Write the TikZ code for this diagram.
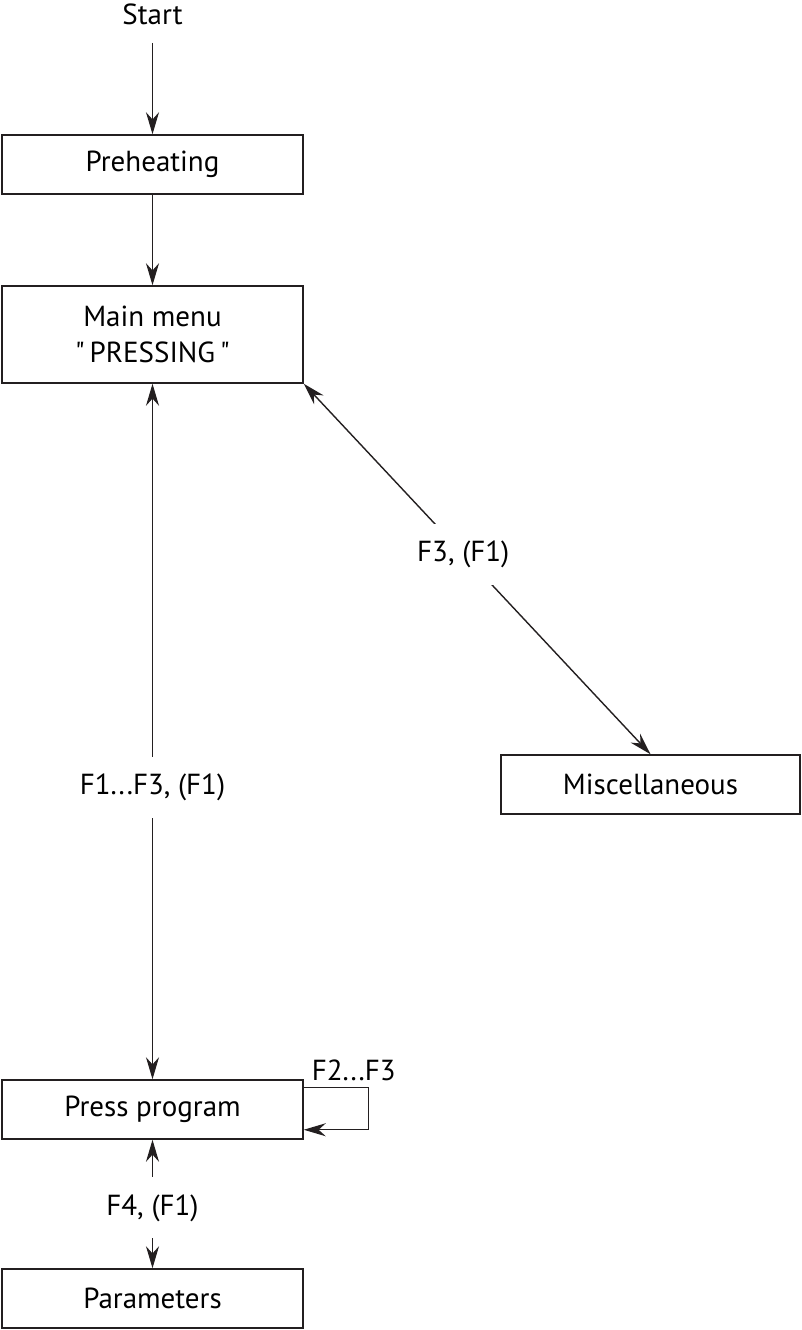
\documentclass[tikz,border=0pt]{standalone}
\usepackage{fontspec}
\setmainfont{PT Sans}
\usetikzlibrary{positioning,arrows.meta}
\definecolor{edge}{HTML}{231F20}

\begin{document}
\begin{tikzpicture}[x=1pt,y=-1pt,
    font=\fontsize{29}{36}\selectfont,
    box/.style={draw=edge,line width=1.5pt,minimum width=301pt,minimum height=59pt,
                inner sep=0pt,align=center},
    flow/.style={-{Stealth[length=22pt,width=13pt]},line width=1.4pt,draw=edge},
    both/.style={{Stealth[length=22pt,width=13pt]}-{Stealth[length=22pt,width=13pt]},
                 line width=1.4pt,draw=edge},
    lbl/.style={fill=white,inner xsep=4pt,inner ysep=17pt}
  ]
  \useasboundingbox (0,0) rectangle (801,1330);

  % main column
  \node (start) at (152.5,14) {Start};
  \node[box] (pre)  at (152.5,164.5) {Preheating};
  \node[box,minimum height=97pt] (menu) at (152.5,334.5)
       {Main menu\\\textquotedbl\,PRESSING\,\textquotedbl};
  \node[box] (prog) at (152.5,1109.5) {Press program};
  \node[box] (par)  at (152.5,1298.5) {Parameters};

  % side branch
  \node[box,minimum width=299pt] (misc) at (650.5,784.5) {Miscellaneous};

  \draw[flow] ([yshift=-29pt]start.center) -- (pre);
  \draw[flow] (pre) -- (menu);

  \draw[both] (menu.south east) -- node[lbl,pos=0.46] (l3) {F3, (F1)} (misc.north);
  \draw[both] (menu.south) -- node[lbl,pos=0.58] (l13) {F1...F3, (F1)} (prog.north);
  \draw[both] (prog.south) -- node[lbl,pos=0.53] (l4) {F4, (F1)} (par.north);

  % loop on press program
  \draw[flow] ([yshift=-8pt]prog.north east) -- ++(65,0)
              node[above,xshift=-15pt,yshift=2pt] (l23) {F2...F3} |- ([yshift=10pt]prog.south east);

\end{tikzpicture}
\end{document}
